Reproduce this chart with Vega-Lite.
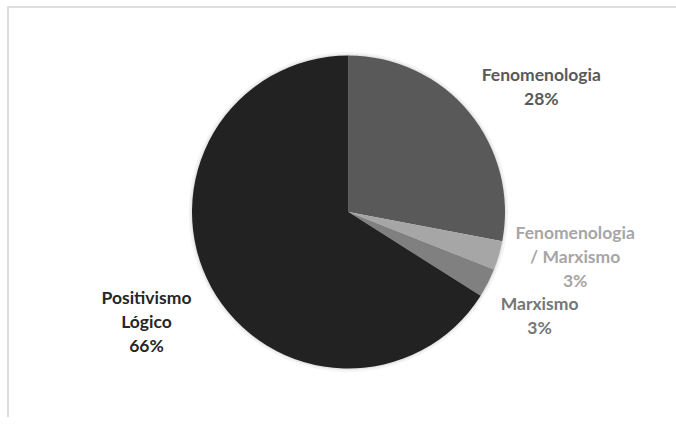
{
  "$schema": "https://vega.github.io/schema/vega-lite/v6.json",
  "width": 681,
  "height": 410,
  "autosize": {"type": "none"},
  "padding": {"left": 8, "top": 7, "right": 0, "bottom": 0},
  "background": "white",
  "view": {"stroke": "#d4d4d4", "strokeWidth": 1.5, "strokeDash": [681, 1091, 410]},
  "data": {"values": [
    {"order": 1, "label": "Fenomenologia", "value": 28},
    {"order": 2, "label": "Fenomenologia\n/ Marxismo", "value": 3},
    {"order": 3, "label": "Marxismo", "value": 3},
    {"order": 4, "label": "Positivismo\nLógico", "value": 66}
  ]},
  "transform": [
    {"window": [{"op": "sum", "field": "value", "as": "cum"}], "sort": [{"field": "order"}], "frame": [null, 0]},
    {"calculate": "datum.cum - datum.value/2", "as": "mid"},
    {"calculate": "datum.label + '\\n' + datum.value + '%'", "as": "text"}
  ],
  "layer": [
    {
      "mark": {"type": "arc", "outerRadius": 160, "color": "#000000", "opacity": 0.04},
      "encoding": {"theta": {"aggregate": "sum", "field": "value", "type": "quantitative", "scale": {"domain": [0, 100]}}}
    },
    {
      "mark": {"type": "arc", "outerRadius": 158, "color": "#000000", "opacity": 0.06},
      "encoding": {"theta": {"aggregate": "sum", "field": "value", "type": "quantitative", "scale": {"domain": [0, 100]}}}
    },
    {
      "mark": {"type": "arc", "outerRadius": 156.5},
      "encoding": {
        "theta": {"field": "value", "type": "quantitative", "stack": true, "scale": {"domain": [0, 100]}},
        "order": {"field": "order", "type": "quantitative"},
        "color": {"field": "order", "type": "nominal", "scale": {"domain": [1, 2, 3, 4], "range": ["#595959", "#a6a6a6", "#808080", "#222222"]}, "legend": null}
      }
    },
    {
      "transform": [{"filter": "datum.order == 1"}],
      "mark": {"type": "text", "radius": 210, "dx": 31, "dy": -2, "font": "Lato", "fontWeight": "bold", "fontSize": 17.5, "lineHeight": 24, "lineBreak": "\n", "align": "center", "baseline": "middle", "color": "#595959"},
      "encoding": {"theta": {"field": "mid", "type": "quantitative", "stack": null}, "text": {"field": "text"}}
    },
    {
      "transform": [{"filter": "datum.order == 2"}],
      "mark": {"type": "text", "radius": 210, "dx": 25, "dy": -37, "font": "Lato", "fontWeight": "bold", "fontSize": 17.5, "lineHeight": 24, "lineBreak": "\n", "align": "center", "baseline": "middle", "color": "#a6a6a6"},
      "encoding": {"theta": {"field": "mid", "type": "quantitative", "stack": null}, "text": {"field": "text"}}
    },
    {
      "transform": [{"filter": "datum.order == 3"}],
      "mark": {"type": "text", "radius": 210, "dx": 4, "dy": -2.5, "font": "Lato", "fontWeight": "bold", "fontSize": 17.5, "lineHeight": 24, "lineBreak": "\n", "align": "center", "baseline": "middle", "color": "#767676"},
      "encoding": {"theta": {"field": "mid", "type": "quantitative", "stack": null}, "text": {"field": "text"}}
    },
    {
      "transform": [{"filter": "datum.order == 4"}],
      "mark": {"type": "text", "radius": 210, "dx": -18, "dy": -14, "font": "Lato", "fontWeight": "bold", "fontSize": 17.5, "lineHeight": 24, "lineBreak": "\n", "align": "center", "baseline": "middle", "color": "#262626"},
      "encoding": {"theta": {"field": "mid", "type": "quantitative", "stack": null}, "text": {"field": "text"}}
    }
  ]
}
